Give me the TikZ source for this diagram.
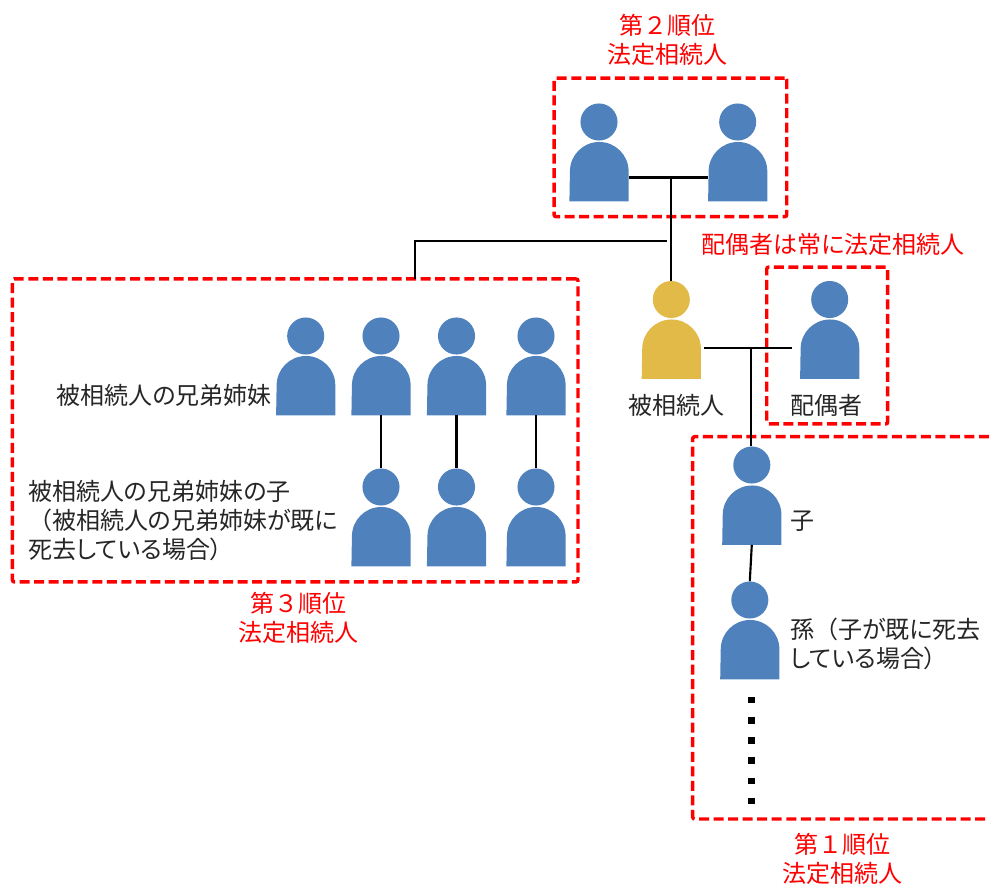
\documentclass[tikz,border=0pt]{standalone}
\usepackage{fontspec}
\setmainfont{Noto Sans CJK JP}[RawFeature={+palt}]
\newfontfamily\fullw{Noto Sans CJK JP}
\usetikzlibrary{calc}
\definecolor{pblue}{HTML}{4F81BD}
\definecolor{pgold}{HTML}{E2BA48}
\definecolor{ink}{HTML}{262626}
\tikzset{
  x=0.75pt,y=-0.75pt,
  redbox/.style={draw=red,line width=2.6pt,dash pattern=on 7.5pt off 3.4pt,rounded corners=1.5pt},
  boxnode/.style={redbox,inner sep=0pt,rectangle,fill=none},
  headshape/.style={circle,inner sep=0pt,minimum size=27.8pt},
  bodyshape/.style={rectangle,inner sep=0pt,minimum width=44pt,minimum height=44.3pt},
  link/.style={draw=black,line width=1.6pt},
  jp/.style={font=\fontsize{18pt}{21.9pt}\selectfont,text=ink,inner sep=0pt},
  redlabel/.style={font=\fontsize{18pt}{21.6pt}\selectfont,text=red,inner sep=0pt,align=center},
  dotmark/.style={rectangle,fill=black,inner sep=0pt,minimum size=5.2pt}
}
\newcommand{\personfig}[5][pblue]{%
  % colour, name, centre x, head centre y, body centre y
  \node[headshape,fill=#1] (#2h) at (#3,#4) {};
  \node[bodyshape] (#2) at (#3,#5) {};
  \fill[#1] (#2.south west) -- (#2.south east) -- ++(0,-30)
    arc[start angle=0,end angle=180,radius=22pt] -- cycle;
}
\begin{document}
\begin{tikzpicture}
\useasboundingbox (0,0) rectangle (989,886);

% dashed frames
\node[boxnode,minimum width=174.5pt,minimum height=103.9pt] (second) at (670.4,147.4) {};
\node[boxnode,minimum width=90.7pt,minimum height=117.7pt] (spousebox) at (827.2,345.5) {};
\node[boxnode,minimum width=424.2pt,minimum height=227.3pt] (third) at (295.2,430.4) {};
\coordinate (firstTR) at (989,436.7);
\coordinate (firstTL) at (692.7,436.7);
\coordinate (firstBL) at (692.7,819);
\coordinate (firstBR) at (989,819);
\draw[redbox] (firstTR) -- (firstTL) -- (firstBL) -- (firstBR);

% people
\personfig{pa}{599}{122}{171.5}
\personfig{pb}{737.7}{122}{171.5}
\personfig[pgold]{heir}{671.3}{299.5}{349}
\personfig{spouse}{829.7}{299.5}{349}
\personfig{child}{751.8}{465}{515}
\personfig{grand}{749.8}{600}{649.5}
\personfig{s1}{305.7}{336}{385.5}
\personfig{s2}{381}{336}{385.5}
\personfig{s3}{456.5}{336}{385.5}
\personfig{s4}{536}{336}{385.5}
\personfig{n2}{381}{487}{536.5}
\personfig{n3}{456.5}{487}{536.5}
\personfig{n4}{536}{487}{536.5}

% connectors
\coordinate (jtop) at (670.7,177.5);
\coordinate (jside) at (666.7,241.3);
\coordinate (jheirL) at (704,348);
\coordinate (jheirR) at (792.3,348);
\coordinate (jdown) at (750.7,348);
\coordinate (jthird) at (415,279);
\draw[link] (pa.east |- jtop) -- (pb.west |- jtop);
\draw[link] (jtop) -- (jtop |- heirh.north);
\draw[link] (jside) -| (jthird);
\draw[link] (jheirL) -- (jheirR);
\draw[link] (jdown) -- (jdown |- childh.north);
\draw[link] (child.south) -- (grandh.north);
\draw[link] (s2.south) -- (n2h.north);
\draw[link] (s3.south) -- (n3h.north);
\draw[link] (s4.south) -- (n4h.north);

% continuation marks
\foreach \i/\yy in {1/700,2/720.3,3/740.5,4/760.7,5/781,6/801}
  \node[dotmark] (dot\i) at (751.3,\yy) {};

% labels
\node[redlabel] (l2) at (667,39.5) {{\fullw 第２順位}\\法定相続人};
\node[redlabel] (lspouse) at (833,244.5) {配偶者は常に法定相続人};
\node[redlabel] (l3) at (298,618) {{\fullw 第３順位}\\法定相続人};
\node[redlabel] (l1) at (842,859) {{\fullw 第１順位}\\法定相続人};
\node[jp] (their) at (676,405) {被相続人};
\node[jp] (tspouse) at (826.5,405) {配偶者};
\node[jp,anchor=west] (tchild) at (790,521) {子};
\node[jp,anchor=west,align=left] (tgrand) at (790,644) {孫{\fullw （}子が既に死去\\している場合）};
\node[jp,anchor=east] (tsib) at (272,395) {被相続人の兄弟姉妹};
\node[jp,anchor=west,align=left] (tneph) at (28,520.5) {被相続人の兄弟姉妹の子\\{\fullw （}被相続人の兄弟姉妹が既に\\死去している場合）};
\end{tikzpicture}
\end{document}
